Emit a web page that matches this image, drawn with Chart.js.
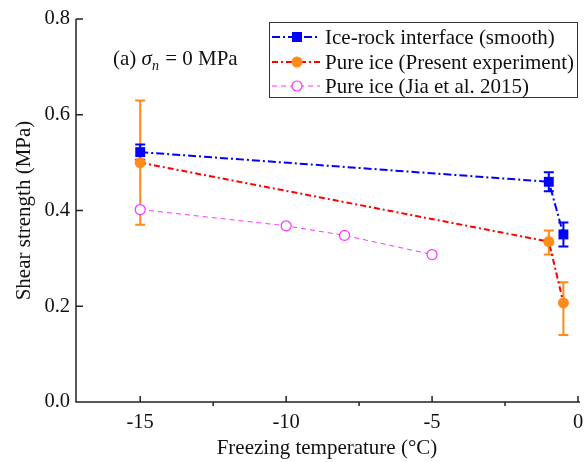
<!DOCTYPE html>
<html><head><meta charset="utf-8">
<script src="https://cdn.jsdelivr.net/npm/chart.js@4/dist/chart.umd.min.js"></script>
<style>html,body{margin:0;padding:0;background:#fff}#wrap{width:585px;height:462px}</style>
</head><body><div id="wrap"><canvas id="c" width="585" height="462"></canvas></div>
<script>
const iceRockT = [-15, -1, -0.5];
const iceRockS = [0.522, 0.460, 0.350];
const iceRockErr = [0.016, 0.020, 0.025];
const pureT = [-15, -1, -0.5];
const pureS = [0.500, 0.335, 0.207];
const pureLo = [0.370, 0.308, 0.140];
const pureHi = [0.630, 0.358, 0.250];
const jiaT = [-15, -10, -8, -5];
const jiaS = [0.402, 0.368, 0.348, 0.308];
const xMajor = [-15, -10, -5, 0];
const xMinor = [-12.5, -7.5, -2.5];
const yMajor = [0, 0.2, 0.4, 0.6, 0.8];
const seriesNames = ['Ice-rock interface (smooth)', 'Pure ice (Present experiment)', 'Pure ice (Jia et al. 2015)'];

const FONT = '"Liberation Serif", "Times New Roman", serif';
const FS = 20.5, FT = 21;
const BLUE = '#0000ff', RED = '#ff0000', ORANGE = '#ff8c1a', MAG = '#ff33ff';

const toPts = (xs, ys) => xs.map((x, i) => ({x, y: ys[i]}));

const errPlugin = {
  id: 'err',
  beforeDatasetsDraw(chart) {
    const {ctx, scales: {x, y}} = chart;
    ctx.save();
    const bar = (t, lo, hi, color) => {
      const px = x.getPixelForValue(t), p1 = y.getPixelForValue(lo), p2 = y.getPixelForValue(hi);
      ctx.strokeStyle = color; ctx.lineWidth = 2; ctx.setLineDash([]);
      ctx.beginPath();
      ctx.moveTo(px, p1); ctx.lineTo(px, p2);
      ctx.moveTo(px - 5, p1); ctx.lineTo(px + 5, p1);
      ctx.moveTo(px - 5, p2); ctx.lineTo(px + 5, p2);
      ctx.stroke();
    };
    pureT.forEach((t, i) => bar(t, pureLo[i], pureHi[i], ORANGE));
    iceRockT.forEach((t, i) => bar(t, iceRockS[i] - iceRockErr[i], iceRockS[i] + iceRockErr[i], BLUE));
    ctx.restore();
  }
};

const axesPlugin = {
  id: 'axes',
  afterDraw(chart) {
    const {ctx, scales: {x, y}, chartArea: a} = chart;
    ctx.save();
    ctx.strokeStyle = '#222'; ctx.lineWidth = 1.5; ctx.setLineDash([]);
    ctx.beginPath();
    ctx.moveTo(a.left, a.top); ctx.lineTo(a.left, a.bottom); ctx.lineTo(a.right + 2, a.bottom);
    xMajor.forEach(v => { const p = x.getPixelForValue(v); ctx.moveTo(p, a.bottom); ctx.lineTo(p, a.bottom - 6); });
    xMinor.forEach(v => { const p = x.getPixelForValue(v); ctx.moveTo(p, a.bottom); ctx.lineTo(p, a.bottom + 4); });
    yMajor.forEach(v => { const p = y.getPixelForValue(v); ctx.moveTo(a.left, p); ctx.lineTo(a.left + 7, p); });
    ctx.stroke();

    // annotation
    ctx.fillStyle = '#111'; ctx.textBaseline = 'alphabetic'; ctx.textAlign = 'left';
    let tx = 113, ty = 65;
    ctx.font = FT + 'px ' + FONT;
    ctx.fillText('(a) ', tx, ty); tx += ctx.measureText('(a) ').width;
    ctx.font = 'italic ' + FT + 'px ' + FONT;
    ctx.fillText('σ', tx, ty); tx += ctx.measureText('σ').width;
    ctx.font = 'italic 14px ' + FONT;
    ctx.fillText('n', tx, ty + 5); tx += ctx.measureText('n').width + 1;
    ctx.font = FT + 'px ' + FONT;
    ctx.fillText(' = 0 MPa', tx, ty);

    // legend
    const lx = 269, ly = 22, lw = 308, lh = 75;
    ctx.fillStyle = '#fff'; ctx.fillRect(lx, ly, lw, lh);
    ctx.strokeStyle = '#333'; ctx.lineWidth = 1; ctx.strokeRect(lx + 0.5, ly + 0.5, lw, lh);
    const rows = [
      {y: 37, color: BLUE, dash: [8, 3, 2, 3], lw: 2, draw: (cx, cy) => { ctx.fillStyle = BLUE; ctx.fillRect(cx - 5, cy - 5, 10, 10); }},
      {y: 62, color: RED, dash: [6, 3, 2, 3], lw: 2, draw: (cx, cy) => { ctx.fillStyle = ORANGE; ctx.beginPath(); ctx.arc(cx, cy, 5.5, 0, Math.PI * 2); ctx.fill(); }},
      {y: 86, color: MAG, dash: [5, 4], lw: 1, draw: (cx, cy) => { ctx.fillStyle = '#fff'; ctx.strokeStyle = MAG; ctx.lineWidth = 1.2; ctx.setLineDash([]); ctx.beginPath(); ctx.arc(cx, cy, 5, 0, Math.PI * 2); ctx.fill(); ctx.stroke(); }}
    ];
    rows.forEach((r, i) => {
      ctx.strokeStyle = r.color; ctx.lineWidth = r.lw; ctx.setLineDash(r.dash);
      ctx.beginPath(); ctx.moveTo(272, r.y); ctx.lineTo(320, r.y); ctx.stroke();
      ctx.setLineDash([]);
      r.draw(297, r.y);
      ctx.fillStyle = '#111'; ctx.font = FT + 'px ' + FONT; ctx.textBaseline = 'middle';
      ctx.fillText(seriesNames[i], 325, r.y + 1);
    });
    ctx.restore();
  }
};

new Chart(document.getElementById('c'), {
  type: 'scatter',
  data: {
    datasets: [
      {label: seriesNames[2], data: toPts(jiaT, jiaS), showLine: true, borderColor: MAG, borderWidth: 1, borderDash: [5, 4],
       pointStyle: 'circle', pointRadius: 5, pointBackgroundColor: '#fff', pointBorderColor: MAG, pointBorderWidth: 1.2, order: 3},
      {label: seriesNames[1], data: toPts(pureT, pureS), showLine: true, borderColor: RED, borderWidth: 2, borderDash: [6, 3, 2, 3],
       pointStyle: 'circle', pointRadius: 5.5, pointBackgroundColor: ORANGE, pointBorderColor: ORANGE, pointBorderWidth: 0, order: 2},
      {label: seriesNames[0], data: toPts(iceRockT, iceRockS), showLine: true, borderColor: BLUE, borderWidth: 2, borderDash: [8, 3, 2, 3],
       pointStyle: 'rect', pointRadius: 7, pointBackgroundColor: BLUE, pointBorderColor: BLUE, pointBorderWidth: 0, order: 1}
    ]
  },
  options: {
    responsive: false, animation: false,
    layout: {padding: {top: 19, right: 7, left: 0, bottom: 0}},
    plugins: {legend: {display: false}, tooltip: {enabled: false}},
    scales: {
      x: {
        type: 'linear', min: -17.2, max: 0,
        afterFit(s) { s.height = 60; s.paddingRight = 0; s.paddingLeft = 0; },
        grid: {display: false, drawTicks: false}, border: {display: false},
        ticks: {stepSize: 5, includeBounds: false, maxRotation: 0, padding: 8, color: '#111', font: {family: FONT, size: FS}, callback: v => String(v)},
        title: {display: true, text: 'Freezing temperature (°C)', color: '#111', font: {family: FONT, size: FT}, padding: {top: 0, bottom: 1}}
      },
      y: {
        min: 0, max: 0.8,
        afterFit(s) { s.width = 76; s.paddingTop = 0; s.paddingBottom = 0; },
        grid: {display: false, drawTicks: false}, border: {display: false},
        ticks: {stepSize: 0.2, padding: 6, color: '#111', font: {family: FONT, size: FS}, callback: v => Number(v).toFixed(1)},
        title: {display: true, text: 'Shear strength (MPa)', color: '#111', font: {family: FONT, size: FT}, padding: {top: 12, bottom: 0}}
      }
    }
  },
  plugins: [errPlugin, axesPlugin]
});
</script></body></html>
